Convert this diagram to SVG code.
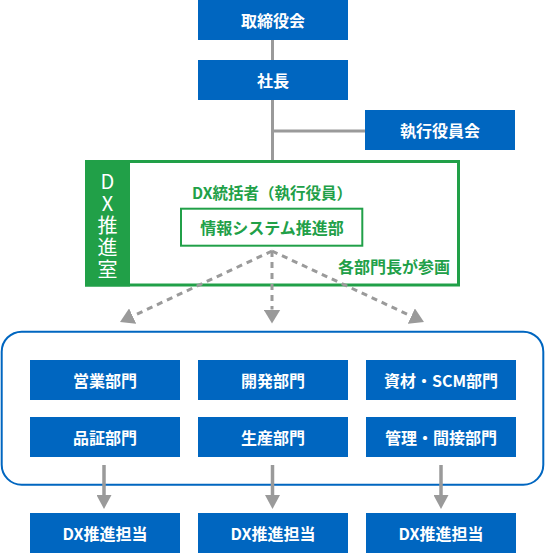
<svg xmlns="http://www.w3.org/2000/svg" width="546" height="553" viewBox="0 0 546 553">
<style>
.box{fill:#0066c0;}
.bt{fill:#ffffff;font-family:"Noto Sans CJK JP","Noto Sans",sans-serif;font-size:16px;font-weight:700;text-anchor:middle;dominant-baseline:central;}
.gt{fill:#21a048;font-family:"Noto Sans CJK JP","Noto Sans",sans-serif;font-weight:700;dominant-baseline:central;}
.vt{fill:#ffffff;font-family:"Noto Sans CJK JP","Noto Sans",sans-serif;font-size:20px;font-weight:400;writing-mode:vertical-rl;text-orientation:upright;letter-spacing:2px;}
.solid{stroke:#9a9a9a;stroke-width:3;fill:none;}
.dash{stroke:#9a9a9a;stroke-width:3;fill:none;stroke-dasharray:6 5;}
.arr{stroke:#9a9a9a;stroke-width:3.5;fill:none;}
</style>
<defs>
<marker id="ahd" markerUnits="userSpaceOnUse" markerWidth="14" markerHeight="17" viewBox="0 0 14 17" refX="0" refY="8.5" orient="auto">
<path d="M0,0 L14,8.5 L0,17 Z" fill="#9a9a9a"/>
</marker>
<marker id="ahs" markerUnits="userSpaceOnUse" markerWidth="14" markerHeight="15" viewBox="0 0 14 15" refX="0" refY="7.5" orient="auto">
<path d="M0,0 L14,7.5 L0,15 Z" fill="#9a9a9a"/>
</marker>
</defs>

<g id="dept-container">
<rect x="1.7" y="331.7" width="541.6" height="153" rx="20" ry="20" fill="none" stroke="#0066c0" stroke-width="2"/>
</g>

<g id="dx-office">
<rect x="86.5" y="161.5" width="372" height="123.5" fill="#ffffff" stroke="#21a048" stroke-width="3"/>
<rect x="85" y="160" width="45" height="126.5" fill="#21a048"/>
<text class="vt" x="107.5" y="171.5">DX推進室</text>
<text class="gt" x="272" y="192" font-size="15.5" text-anchor="middle">DX統括者（執行役員）</text>
<text class="gt" x="450" y="266" font-size="16" text-anchor="end">各部門長が参画</text>
</g>

<g id="info-system">
<rect x="181" y="208.7" width="181.3" height="37" fill="#ffffff" stroke="#21a048" stroke-width="2"/>
<text class="gt" x="272" y="227" font-size="16" text-anchor="middle">情報システム推進部</text>
</g>

<g id="connectors">
<line class="solid" x1="272.5" y1="40" x2="272.5" y2="60"/>
<line class="solid" x1="272.5" y1="100" x2="272.5" y2="160"/>
<line class="solid" x1="272.5" y1="131" x2="366" y2="131"/>
<path class="dash" d="M272,251 L132.7,316.1" marker-end="url(#ahd)"/>
<path class="dash" d="M272,251 L272,309.5" marker-end="url(#ahd)"/>
<path class="dash" d="M272,251 L411.3,316.1" marker-end="url(#ahd)"/>
<path class="arr" d="M104,465 L104,495" marker-end="url(#ahs)"/>
<path class="arr" d="M272.5,465 L272.5,495" marker-end="url(#ahs)"/>
<path class="arr" d="M441,465 L441,495" marker-end="url(#ahs)"/>
</g>

<g id="board"><rect class="box" x="198" y="0" width="150" height="40"/><text class="bt" x="273" y="20">取締役会</text></g>
<g id="president"><rect class="box" x="198" y="60" width="150" height="40"/><text class="bt" x="273" y="80">社長</text></g>
<g id="exec-committee"><rect class="box" x="365" y="110" width="150" height="40"/><text class="bt" x="440" y="130">執行役員会</text></g>

<g id="sales"><rect class="box" x="30" y="360" width="150" height="40"/><text class="bt" x="105" y="380">営業部門</text></g>
<g id="dev"><rect class="box" x="198" y="360" width="150" height="40"/><text class="bt" x="273" y="380">開発部門</text></g>
<g id="scm"><rect class="box" x="366" y="360" width="150" height="40"/><text class="bt" x="441" y="380">資材・SCM部門</text></g>
<g id="qa"><rect class="box" x="30" y="417" width="150" height="40"/><text class="bt" x="105" y="437">品証部門</text></g>
<g id="production"><rect class="box" x="198" y="417" width="150" height="40"/><text class="bt" x="273" y="437">生産部門</text></g>
<g id="admin"><rect class="box" x="366" y="417" width="150" height="40"/><text class="bt" x="441" y="437">管理・間接部門</text></g>

<g id="dx1"><rect class="box" x="30" y="513" width="150" height="40"/><text class="bt" x="105" y="533">DX推進担当</text></g>
<g id="dx2"><rect class="box" x="198" y="513" width="150" height="40"/><text class="bt" x="273" y="533">DX推進担当</text></g>
<g id="dx3"><rect class="box" x="366" y="513" width="150" height="40"/><text class="bt" x="441" y="533">DX推進担当</text></g>
</svg>
